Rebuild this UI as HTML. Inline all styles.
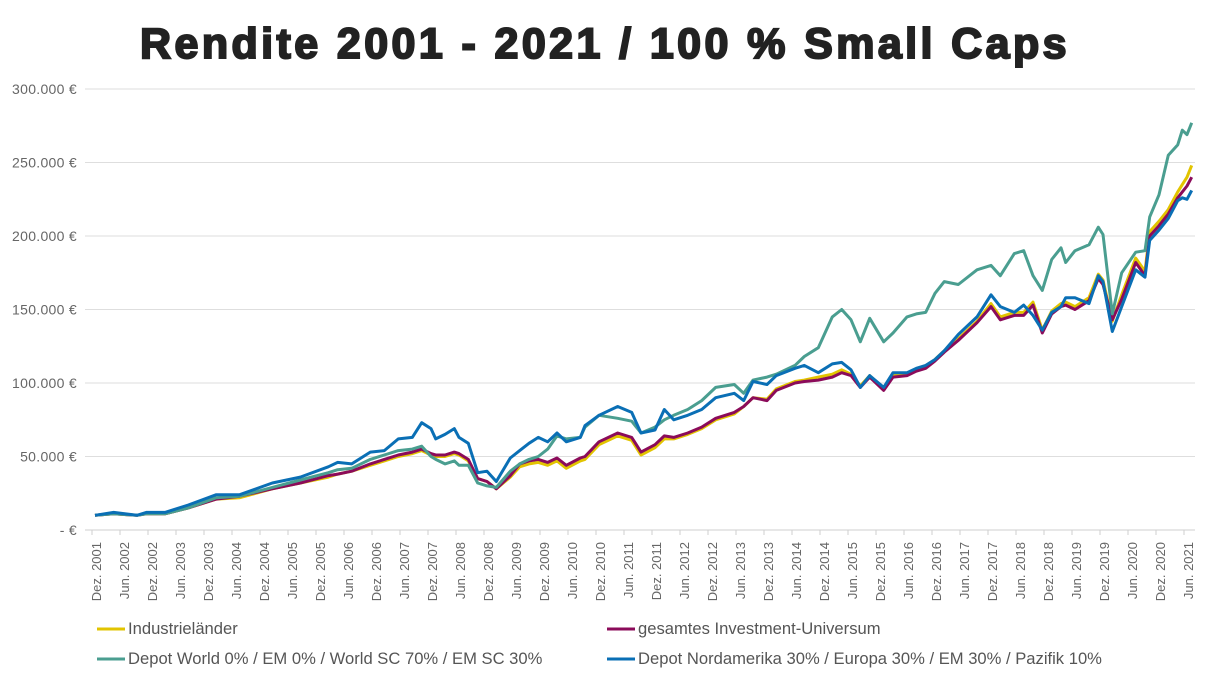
<!DOCTYPE html>
<html><head><meta charset="utf-8">
<style>
html,body{margin:0;padding:0;background:#fff;}
svg{display:block;font-family:"Liberation Sans",sans-serif;}
</style></head>
<body>
<svg id="chart" width="1210" height="682" viewBox="0 0 1210 682" xmlns="http://www.w3.org/2000/svg">
<text x="605" y="58" text-anchor="middle" font-size="43" font-weight="900" fill="#222" stroke="#222" stroke-width="2" letter-spacing="3.4">Rendite 2001 - 2021 / 100 % Small Caps</text>
<g id="grid"></g>
<g id="yaxis"></g>
<g id="xaxis"></g>
<g id="series"></g>
<g font-size="16.6" fill="#555">
 <g><line x1="97" y1="629" x2="125" y2="629" stroke="#e2c400" stroke-width="3"/><text x="128" y="634" fill="#555">Industrieländer</text></g>
 <g><line x1="607" y1="629" x2="635" y2="629" stroke="#8b0b5a" stroke-width="3"/><text x="638" y="634" fill="#555">gesamtes Investment-Universum</text></g>
 <g><line x1="97" y1="659" x2="125" y2="659" stroke="#4a9e90" stroke-width="3"/><text x="128" y="664" fill="#555">Depot World 0% / EM 0% / World SC 70% / EM SC 30%</text></g>
 <g><line x1="607" y1="659" x2="635" y2="659" stroke="#0a6fb5" stroke-width="3"/><text x="638" y="664" fill="#555">Depot Nordamerika 30% / Europa 30% / EM 30% / Pazifik 10%</text></g>
</g>
</svg>
<script>
const yTicks = [0, 50000, 100000, 150000, 200000, 250000, 300000];
const yTickLabels = ["- €", "50.000 €", "100.000 €", "150.000 €", "200.000 €", "250.000 €", "300.000 €"];
const xTickLabels = [];
for (let y = 2001; y <= 2021; y++) { if (y > 2001) xTickLabels.push("Jun. " + y); if (y < 2021) xTickLabels.push("Dez. " + y); }
const months = [0,4,9,11,15,20,26,31,38,44,50,52,55,59,62,65,68,70,72,73,75,77,78,80,82,84,86,89,91,93,95,97,99,101,104,105,108,112,115,117,120,122,124,127,130,133,137,139,141,144,146,150,152,155,158,160,162,164,166,169,171,174,176,178,180,182,185,189,192,194,197,199,201,203,205,207,208,210,213,215,216,218,220,223,225,226,228,230,232,233,234,235];
const blue = [10,12,10,12,12,17,24,24,32,36,43,46,45,53,54,62,63,73,69,62,65,69,63,59,39,40,33,49,54,59,63,60,66,60,63,71,78,84,80,66,68,82,75,78,82,90,93,88,101,99,105,110,112,107,113,114,109,97,105,97,107,107,110,112,116,122,133,145,160,152,148,153,146,136,148,152,158,158,154,173,169,135,152,177,172,197,204,212,224,226,225,231];
const teal = [10,11,10,11,11,15,22,23,29,34,39,41,42,48,51,54,55,57,50,48,45,47,44,44,32,30,29,40,45,48,50,55,64,62,63,70,78,76,74,66,70,75,78,82,88,97,99,93,102,104,106,112,118,124,145,150,143,128,144,128,134,145,147,148,161,169,167,177,180,173,188,190,173,163,184,192,182,190,194,206,201,147,175,189,190,213,228,255,262,272,269,277];
const purple = [10,11,10,11,11,15,21,23,28,32,37,38,40,45,48,51,53,55,52,51,51,53,52,48,35,33,28,37,45,47,48,46,49,44,49,50,60,66,63,53,58,64,63,66,70,76,80,84,90,88,95,100,101,102,104,107,105,97,104,95,104,105,108,110,115,121,129,141,152,143,146,146,153,134,147,152,153,150,156,171,167,143,157,182,173,200,207,215,226,230,234,240];
const yellow = [10,11,10,11,11,15,21,22,28,32,36,38,40,44,47,50,52,54,51,50,50,52,51,47,35,33,28,36,43,45,46,44,47,42,47,48,58,64,61,51,56,62,62,65,69,75,79,84,90,89,96,101,102,104,106,109,106,98,105,96,105,106,109,111,116,122,130,142,154,145,148,148,155,136,149,154,155,152,158,174,170,142,160,185,176,203,210,218,230,235,240,248];

const X0 = 95, PX_PER_MONTH = 28/6, Y0 = 530, Y_TOP = 89, VMAX = 300000;
const xScale = m => X0 + m * PX_PER_MONTH;
const yScale = v => Y0 - (v / VMAX) * (Y0 - Y_TOP);
const NS = "http://www.w3.org/2000/svg";
function mk(tag, attrs, parent) { const e = document.createElementNS(NS, tag); for (const k in attrs) e.setAttribute(k, attrs[k]); parent.appendChild(e); return e; }

const grid = document.getElementById("grid"), yaxis = document.getElementById("yaxis"), xaxis = document.getElementById("xaxis"), series = document.getElementById("series");
yTicks.forEach((t, i) => {
  const y = yScale(t);
  const gl = mk("line", {x1: 85, x2: 1195, y1: y, y2: y, stroke: i === 0 ? "#cfcfcf" : "#dedede", "stroke-width": 1}, grid);
  
  
  const tx = mk("text", {x: 77, y: y + 5, "text-anchor": "end", "font-size": 14, fill: "#666", "letter-spacing": "0.3"}, yaxis);
  tx.textContent = yTickLabels[i];
  
  
});
for (let i = 0; i <= xTickLabels.length; i++) {
  const x = 92 + i * 28;
  const tk = mk("line", {x1: x, x2: x, y1: 530, y2: 535, stroke: "#cfcfcf", "stroke-width": 1}, xaxis);
  
  
}
xTickLabels.forEach((lab, i) => {
  const x = xScale(i * 6) + 6;
  const tx = mk("text", {x: 0, y: 0, transform: `translate(${x},542) rotate(-90)`, "text-anchor": "end", "font-size": 13, fill: "#666"}, xaxis);
  tx.textContent = lab;
  
  
});
const seriesDefs = [["industrielaender-line", yellow, "#e2c400"], ["gesamtes-universum-line", purple, "#8b0b5a"], ["depot-world-sc-line", teal, "#4a9e90"], ["depot-nordamerika-line", blue, "#0a6fb5"]];
seriesDefs.forEach(([name, vals, col]) => {
  const d = vals.map((v, i) => (i ? "L" : "M") + xScale(months[i]).toFixed(1) + "," + yScale(v * 1000).toFixed(1)).join(" ");
  const p = mk("path", {d: d, fill: "none", stroke: col, "stroke-width": 3, "stroke-linejoin": "round"}, series);
  
  
});
</script>
</body></html>
